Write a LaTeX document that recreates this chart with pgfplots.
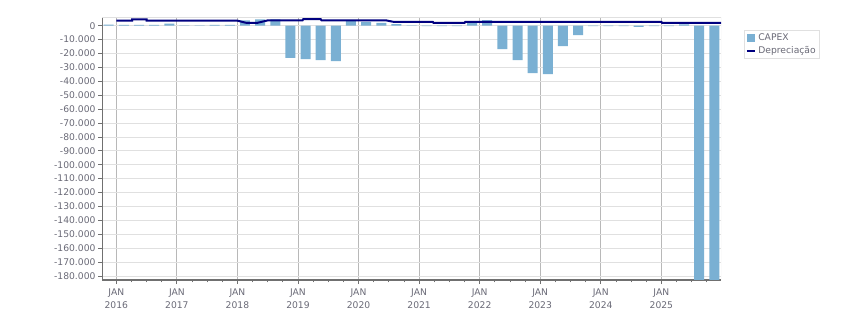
\documentclass[border=0pt]{standalone}
\usepackage{fontspec}
\setmainfont{DejaVu Sans}
\usepackage{pgfplots}
\pgfplotsset{compat=1.18}
\definecolor{txt}{RGB}{105,105,118}
\definecolor{barc}{RGB}{122,176,211}
\definecolor{linec}{RGB}{0,0,128}
\definecolor{gridy}{RGB}{224,224,224}
\definecolor{gridx}{RGB}{184,184,184}
\definecolor{axc}{RGB}{112,112,112}
\begin{document}
\begin{tikzpicture}
\useasboundingbox (0,0) rectangle (851pt,313pt);
\begin{axis}[
  at={(102pt,33pt)}, anchor=south west,
  scale only axis, width=619pt, height=263pt,
  xmin=-0.945, xmax=39.94,
  ymin=-182900, ymax=6250,
  scaled y ticks=false,
  axis x line=bottom, axis y line=left,
  x axis line style={-, draw=axc, line width=2pt},
  y axis line style={-, draw=axc, line width=0.8pt},
  tick align=outside,
  major tick length=4pt, minor tick length=2.5pt,
  every tick/.style={draw=axc, line width=0.8pt},
  xtick={0,4,8,12,16,20,24,28,32,36},
  minor xtick={1,2,3,5,6,7,9,10,11,13,14,15,17,18,19,21,22,23,25,26,27,29,30,31,33,34,35,37,38,39},
  xticklabels={{JAN\\2016},{JAN\\2017},{JAN\\2018},{JAN\\2019},{JAN\\2020},{JAN\\2021},{JAN\\2022},{JAN\\2023},{JAN\\2024},{JAN\\2025}},
  xticklabel style={align=center, font=\fontsize{9.2}{13}\selectfont, text=txt, yshift=-1.5pt},
  ytick={-180000,-170000,-160000,-150000,-140000,-130000,-120000,-110000,-100000,-90000,-80000,-70000,-60000,-50000,-40000,-30000,-20000,-10000,0},
  yticklabels={-180.000,-170.000,-160.000,-150.000,-140.000,-130.000,-120.000,-110.000,-100.000,-90.000,-80.000,-70.000,-60.000,-50.000,-40.000,-30.000,-20.000,-10.000,0},
  yticklabel style={font=\fontsize{9.2}{11}\selectfont, text=txt, xshift=1pt},
  xmajorgrids, ymajorgrids,
  x grid style={draw=gridx, line width=0.8pt},
  y grid style={draw=gridy, line width=0.8pt},
  legend style={at={(1.037,0.95)}, anchor=north west, draw=gridy, line width=0.8pt,
    font=\fontsize{9.2}{11}\selectfont, text=txt, inner sep=1.5pt, row sep=0pt,
    legend cell align=left},
  legend image code/.code={\draw[#1, line width=2pt] (0pt,0pt) -- (8.5pt,0pt);},
]
\addplot[ybar, bar width=0.66, fill=barc, draw=none,
  area legend,
  legend image code/.code={\fill[barc] (0pt,-4pt) rectangle (8pt,4pt);}]
  coordinates {
  (-0.5,800) (0.5,500) (1.5,500) (2.5,500) (3.5,1500)
  (4.5,-200) (5.5,-200) (6.5,500) (7.5,500)
  (8.5,3800) (9.5,4500) (10.5,4500) (11.5,-23100)
  (12.5,-24000) (13.5,-24800) (14.5,-25500) (15.5,3500)
  (16.5,2700) (17.5,2000) (18.5,1200) (19.5,300)
  (20.5,-300) (21.5,-300) (22.5,-300) (23.5,2500)
  (24.5,4000) (25.5,-16800) (26.5,-24800) (27.5,-34100)
  (28.5,-34900) (29.5,-14700) (30.5,-6700) (31.5,-300)
  (32.5,-300) (33.5,-300) (34.5,-800) (35.5,-300)
  (36.5,-300) (37.5,1000) (38.5,-185000) (39.5,-185000)
  };
\addlegendentry{CAPEX}
\addplot[linec, line width=2pt, sharp plot, no marks]
  coordinates {
  (0,3600) (1.05,3600) (1.05,4500) (2,4500) (2,3600) (8,3600)
  (8.6,2000) (9.3,2000) (10,3800) (12.3,3800) (12.35,4700)
  (13.5,4700) (13.55,3900) (17.8,3900) (18,3400) (18.3,2800)
  (20.9,2800) (20.95,2000) (23,2000) (23.05,2800) (36,2800)
  (36.05,2000) (39.94,2000)
  };
\addlegendentry{Depreciação}
\draw[gridy, line width=0.8pt] (rel axis cs:0,1) -- (rel axis cs:1,1) -- (rel axis cs:1,0);
\end{axis}
\end{tikzpicture}
\end{document}
